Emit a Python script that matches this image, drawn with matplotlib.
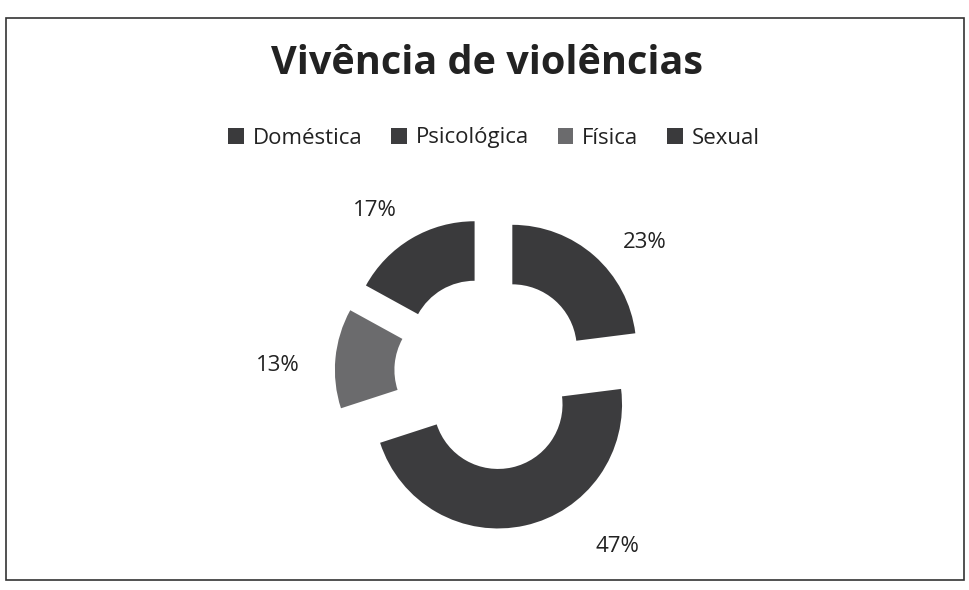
import numpy as np
import matplotlib.pyplot as plt
from matplotlib.patches import Rectangle

labels = ["Doméstica", "Psicológica", "Física", "Sexual"]
values = [23, 47, 13, 17]
colors = ["#3a3a3c", "#3c3c3e", "#6b6b6d", "#3a3a3c"]

# where the percentage labels sit (degrees clockwise from top, radius units)
label_angle = [49.6, 144, 272, 324.6]
label_dist = [1.63, 1.73, 1.72, 1.61]

plt.rcParams['font.family'] = ['Open Sans', 'DejaVu Sans']

fig = plt.figure(figsize=(9.7, 5.9), dpi=100)

# chart frame
fig.patches.append(Rectangle((6 / 970, 10 / 590), 958 / 970, 562 / 590,
                             transform=fig.transFigure, fill=False,
                             edgecolor="#333333", linewidth=1.2))

fig.text(487 / 970, 1 - 64 / 590, "Vivência de violências", ha="center", va="center",
         fontsize=28.5, fontweight="bold", color="#222222")

# donut axes centred on the ring
size = 440
ax = fig.add_axes([(491 - size / 2) / 970, (590 - 373 - size / 2) / 590, size / 970, size / 590])
wedges, texts, autotexts = ax.pie(values, colors=colors, startangle=90, counterclock=False,
                                  explode=[0.26] * 4, autopct="%1.0f%%", pctdistance=1.45,
                                  wedgeprops=dict(width=0.48, edgecolor="none"),
                                  textprops=dict(fontsize=16, color="#222222"))
lim = size / (2 * 124)
ax.set_xlim(-lim, lim)
ax.set_ylim(-lim, lim)
ax.set_aspect("equal")
for t, a, d in zip(autotexts, label_angle, label_dist):
    t.set_position((d * np.sin(np.radians(a)), d * np.cos(np.radians(a))))
    t.set_clip_on(False)

fig.legend(wedges, labels, loc="center", bbox_to_anchor=(494 / 970, 1 - 138 / 590), ncol=4,
           frameon=False, fontsize=16, handlelength=0.7, handleheight=0.7, handletextpad=0.4,
           columnspacing=1.3, labelcolor="#222222")

fig.savefig("out.png", dpi=100)
